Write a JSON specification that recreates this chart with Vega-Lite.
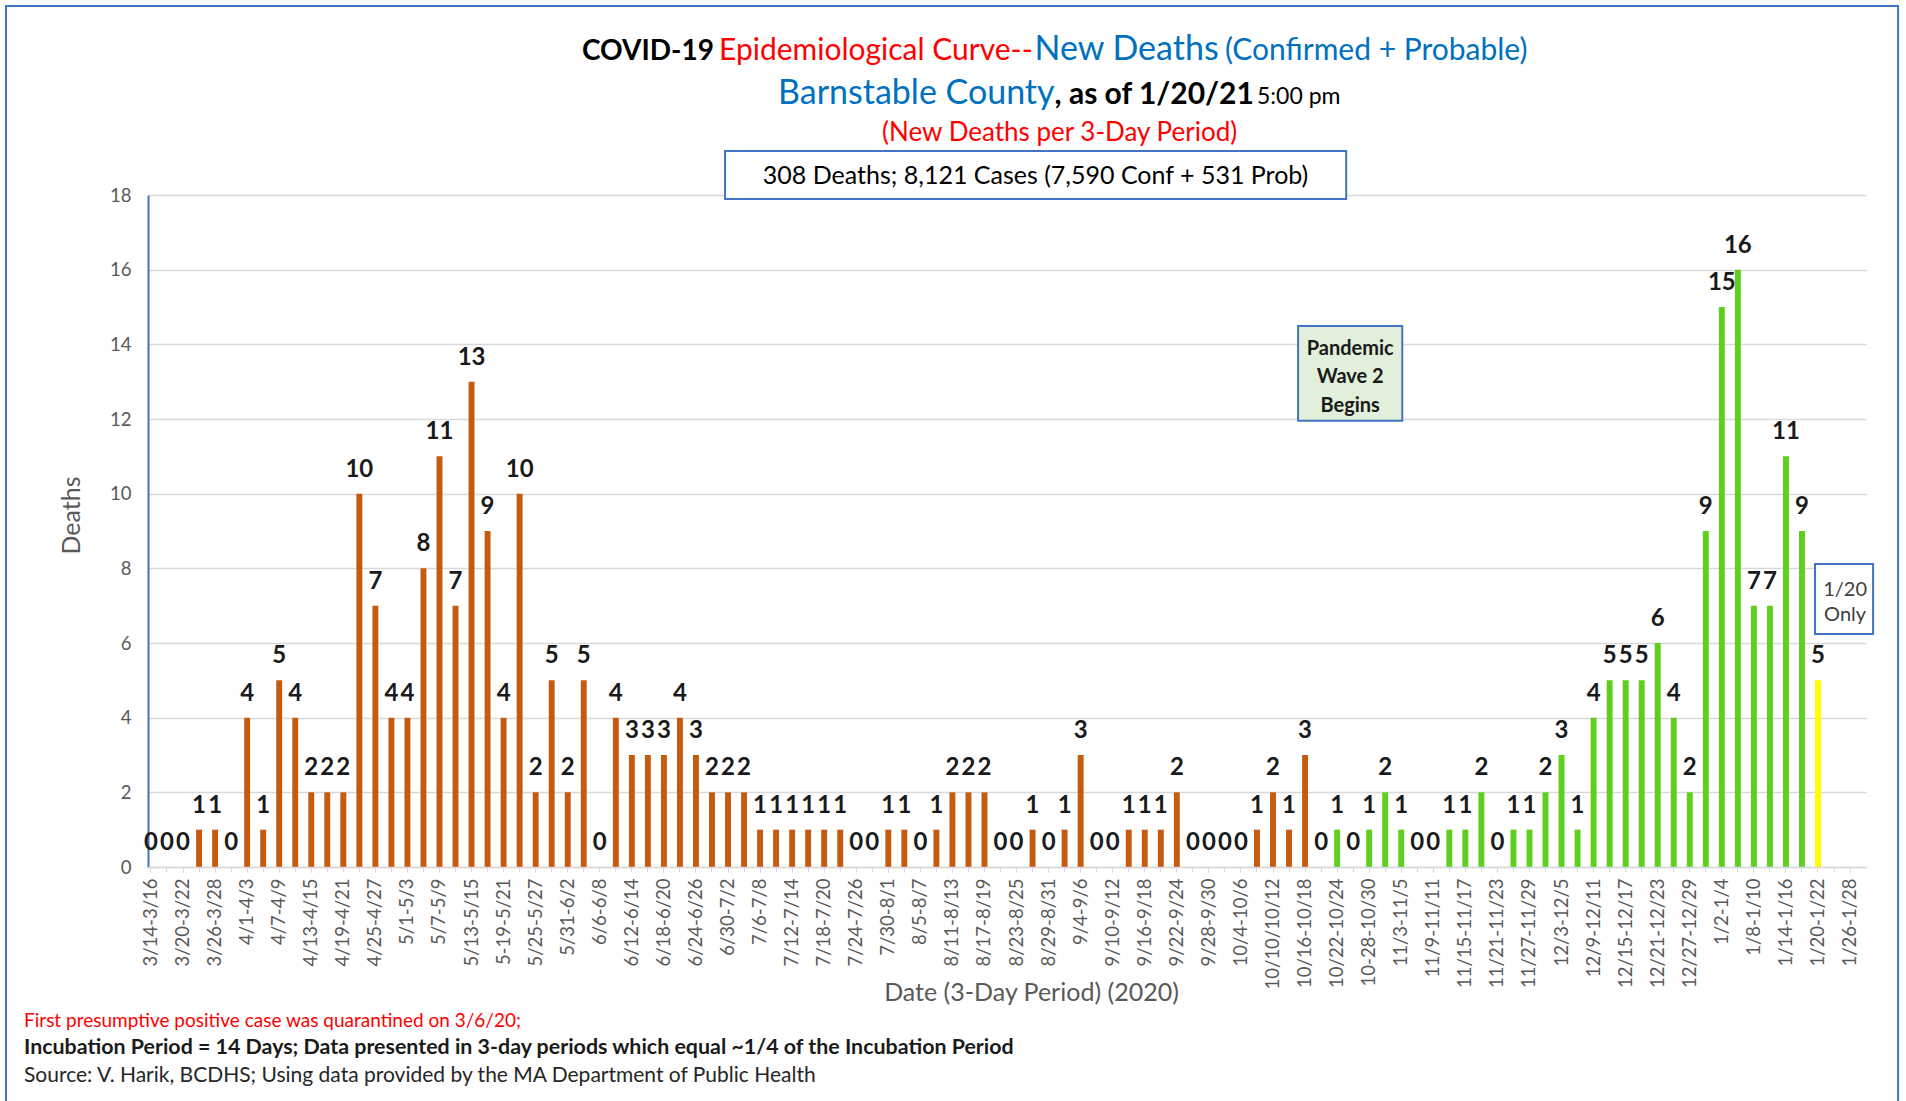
{
  "$schema": "https://vega.github.io/schema/vega-lite/v6.json",
  "width": 1718,
  "height": 672,
  "autosize": {"type": "none"},
  "padding": {"left": 148, "top": 195, "right": 40, "bottom": 234},
  "background": "#ffffff",
  "config": {"view": {"stroke": null}, "font": "Lato"},
  "data": {"values": [
    {"period": "3/14-3/16", "deaths": 0, "wave": "Wave 1"},
    {"period": "3/17-3/19", "deaths": 0, "wave": "Wave 1"},
    {"period": "3/20-3/22", "deaths": 0, "wave": "Wave 1"},
    {"period": "3/23-3/25", "deaths": 1, "wave": "Wave 1"},
    {"period": "3/26-3/28", "deaths": 1, "wave": "Wave 1"},
    {"period": "3/29-3/31", "deaths": 0, "wave": "Wave 1"},
    {"period": "4/1-4/3", "deaths": 4, "wave": "Wave 1"},
    {"period": "4/4-4/6", "deaths": 1, "wave": "Wave 1"},
    {"period": "4/7-4/9", "deaths": 5, "wave": "Wave 1"},
    {"period": "4/10-4/12", "deaths": 4, "wave": "Wave 1"},
    {"period": "4/13-4/15", "deaths": 2, "wave": "Wave 1"},
    {"period": "4/16-4/18", "deaths": 2, "wave": "Wave 1"},
    {"period": "4/19-4/21", "deaths": 2, "wave": "Wave 1"},
    {"period": "4/22-4/24", "deaths": 10, "wave": "Wave 1"},
    {"period": "4/25-4/27", "deaths": 7, "wave": "Wave 1"},
    {"period": "4/28-4/30", "deaths": 4, "wave": "Wave 1"},
    {"period": "5/1-5/3", "deaths": 4, "wave": "Wave 1"},
    {"period": "5/4-5/6", "deaths": 8, "wave": "Wave 1"},
    {"period": "5/7-5/9", "deaths": 11, "wave": "Wave 1"},
    {"period": "5/10-5/12", "deaths": 7, "wave": "Wave 1"},
    {"period": "5/13-5/15", "deaths": 13, "wave": "Wave 1"},
    {"period": "5/16-5/18", "deaths": 9, "wave": "Wave 1"},
    {"period": "5-19-5/21", "deaths": 4, "wave": "Wave 1"},
    {"period": "5/22-5/24", "deaths": 10, "wave": "Wave 1"},
    {"period": "5/25-5/27", "deaths": 2, "wave": "Wave 1"},
    {"period": "5/28-5/30", "deaths": 5, "wave": "Wave 1"},
    {"period": "5/31-6/2", "deaths": 2, "wave": "Wave 1"},
    {"period": "6/3-6/5", "deaths": 5, "wave": "Wave 1"},
    {"period": "6/6-6/8", "deaths": 0, "wave": "Wave 1"},
    {"period": "6/9-6/11", "deaths": 4, "wave": "Wave 1"},
    {"period": "6/12-6/14", "deaths": 3, "wave": "Wave 1"},
    {"period": "6/15-6/17", "deaths": 3, "wave": "Wave 1"},
    {"period": "6/18-6/20", "deaths": 3, "wave": "Wave 1"},
    {"period": "6/21-6/23", "deaths": 4, "wave": "Wave 1"},
    {"period": "6/24-6/26", "deaths": 3, "wave": "Wave 1"},
    {"period": "6/27-6/29", "deaths": 2, "wave": "Wave 1"},
    {"period": "6/30-7/2", "deaths": 2, "wave": "Wave 1"},
    {"period": "7/3-7/5", "deaths": 2, "wave": "Wave 1"},
    {"period": "7/6-7/8", "deaths": 1, "wave": "Wave 1"},
    {"period": "7/9-7/11", "deaths": 1, "wave": "Wave 1"},
    {"period": "7/12-7/14", "deaths": 1, "wave": "Wave 1"},
    {"period": "7/15-7/17", "deaths": 1, "wave": "Wave 1"},
    {"period": "7/18-7/20", "deaths": 1, "wave": "Wave 1"},
    {"period": "7/21-7/23", "deaths": 1, "wave": "Wave 1"},
    {"period": "7/24-7/26", "deaths": 0, "wave": "Wave 1"},
    {"period": "7/27-7/29", "deaths": 0, "wave": "Wave 1"},
    {"period": "7/30-8/1", "deaths": 1, "wave": "Wave 1"},
    {"period": "8/2-8/4", "deaths": 1, "wave": "Wave 1"},
    {"period": "8/5-8/7", "deaths": 0, "wave": "Wave 1"},
    {"period": "8/8-8/10", "deaths": 1, "wave": "Wave 1"},
    {"period": "8/11-8/13", "deaths": 2, "wave": "Wave 1"},
    {"period": "8/14-8/16", "deaths": 2, "wave": "Wave 1"},
    {"period": "8/17-8/19", "deaths": 2, "wave": "Wave 1"},
    {"period": "8/20-8/22", "deaths": 0, "wave": "Wave 1"},
    {"period": "8/23-8/25", "deaths": 0, "wave": "Wave 1"},
    {"period": "8/26-8/28", "deaths": 1, "wave": "Wave 1"},
    {"period": "8/29-8/31", "deaths": 0, "wave": "Wave 1"},
    {"period": "9/1-9/3", "deaths": 1, "wave": "Wave 1"},
    {"period": "9/4-9/6", "deaths": 3, "wave": "Wave 1"},
    {"period": "9/7-9/9", "deaths": 0, "wave": "Wave 1"},
    {"period": "9/10-9/12", "deaths": 0, "wave": "Wave 1"},
    {"period": "9/13-9/15", "deaths": 1, "wave": "Wave 1"},
    {"period": "9/16-9/18", "deaths": 1, "wave": "Wave 1"},
    {"period": "9/19-9/21", "deaths": 1, "wave": "Wave 1"},
    {"period": "9/22-9/24", "deaths": 2, "wave": "Wave 1"},
    {"period": "9/25-9/27", "deaths": 0, "wave": "Wave 1"},
    {"period": "9/28-9/30", "deaths": 0, "wave": "Wave 1"},
    {"period": "10/1-10/3", "deaths": 0, "wave": "Wave 1"},
    {"period": "10/4-10/6", "deaths": 0, "wave": "Wave 1"},
    {"period": "10/7-10/9", "deaths": 1, "wave": "Wave 1"},
    {"period": "10/10/10/12", "deaths": 2, "wave": "Wave 1"},
    {"period": "10/13-10/15", "deaths": 1, "wave": "Wave 1"},
    {"period": "10/16-10/18", "deaths": 3, "wave": "Wave 1"},
    {"period": "10/19-10/21", "deaths": 0, "wave": "Wave 2"},
    {"period": "10/22-10/24", "deaths": 1, "wave": "Wave 2"},
    {"period": "10/25-10/27", "deaths": 0, "wave": "Wave 2"},
    {"period": "10-28-10/30", "deaths": 1, "wave": "Wave 2"},
    {"period": "10/31-11/2", "deaths": 2, "wave": "Wave 2"},
    {"period": "11/3-11/5", "deaths": 1, "wave": "Wave 2"},
    {"period": "11/6-11/8", "deaths": 0, "wave": "Wave 2"},
    {"period": "11/9-11/11", "deaths": 0, "wave": "Wave 2"},
    {"period": "11/12-11/14", "deaths": 1, "wave": "Wave 2"},
    {"period": "11/15-11/17", "deaths": 1, "wave": "Wave 2"},
    {"period": "11/18-11/20", "deaths": 2, "wave": "Wave 2"},
    {"period": "11/21-11/23", "deaths": 0, "wave": "Wave 2"},
    {"period": "11/24-11/26", "deaths": 1, "wave": "Wave 2"},
    {"period": "11/27-11/29", "deaths": 1, "wave": "Wave 2"},
    {"period": "11/30-12/2", "deaths": 2, "wave": "Wave 2"},
    {"period": "12/3-12/5", "deaths": 3, "wave": "Wave 2"},
    {"period": "12/6-12/8", "deaths": 1, "wave": "Wave 2"},
    {"period": "12/9-12/11", "deaths": 4, "wave": "Wave 2"},
    {"period": "12/12-12/14", "deaths": 5, "wave": "Wave 2"},
    {"period": "12/15-12/17", "deaths": 5, "wave": "Wave 2"},
    {"period": "12/18-12/20", "deaths": 5, "wave": "Wave 2"},
    {"period": "12/21-12/23", "deaths": 6, "wave": "Wave 2"},
    {"period": "12/24-12/26", "deaths": 4, "wave": "Wave 2"},
    {"period": "12/27-12/29", "deaths": 2, "wave": "Wave 2"},
    {"period": "12/30-1/1", "deaths": 9, "wave": "Wave 2"},
    {"period": "1/2-1/4", "deaths": 15, "wave": "Wave 2"},
    {"period": "1/5-1/7", "deaths": 16, "wave": "Wave 2"},
    {"period": "1/8-1/10", "deaths": 7, "wave": "Wave 2"},
    {"period": "1/11-1/13", "deaths": 7, "wave": "Wave 2"},
    {"period": "1/14-1/16", "deaths": 11, "wave": "Wave 2"},
    {"period": "1/17-1/19", "deaths": 9, "wave": "Wave 2"},
    {"period": "1/20-1/22", "deaths": 5, "wave": "1/20 only"}
  ]},
  "encoding": {
    "x": {
      "type": "ordinal",
      "scale": {
        "domain": ["3/14-3/16","3/17-3/19","3/20-3/22","3/23-3/25","3/26-3/28","3/29-3/31","4/1-4/3","4/4-4/6","4/7-4/9","4/10-4/12","4/13-4/15","4/16-4/18","4/19-4/21","4/22-4/24","4/25-4/27","4/28-4/30","5/1-5/3","5/4-5/6","5/7-5/9","5/10-5/12","5/13-5/15","5/16-5/18","5-19-5/21","5/22-5/24","5/25-5/27","5/28-5/30","5/31-6/2","6/3-6/5","6/6-6/8","6/9-6/11","6/12-6/14","6/15-6/17","6/18-6/20","6/21-6/23","6/24-6/26","6/27-6/29","6/30-7/2","7/3-7/5","7/6-7/8","7/9-7/11","7/12-7/14","7/15-7/17","7/18-7/20","7/21-7/23","7/24-7/26","7/27-7/29","7/30-8/1","8/2-8/4","8/5-8/7","8/8-8/10","8/11-8/13","8/14-8/16","8/17-8/19","8/20-8/22","8/23-8/25","8/26-8/28","8/29-8/31","9/1-9/3","9/4-9/6","9/7-9/9","9/10-9/12","9/13-9/15","9/16-9/18","9/19-9/21","9/22-9/24","9/25-9/27","9/28-9/30","10/1-10/3","10/4-10/6","10/7-10/9","10/10/10/12","10/13-10/15","10/16-10/18","10/19-10/21","10/22-10/24","10/25-10/27","10-28-10/30","10/31-11/2","11/3-11/5","11/6-11/8","11/9-11/11","11/12-11/14","11/15-11/17","11/18-11/20","11/21-11/23","11/24-11/26","11/27-11/29","11/30-12/2","12/3-12/5","12/6-12/8","12/9-12/11","12/12-12/14","12/15-12/17","12/18-12/20","12/21-12/23","12/24-12/26","12/27-12/29","12/30-1/1","1/2-1/4","1/5-1/7","1/8-1/10","1/11-1/13","1/14-1/16","1/17-1/19","1/20-1/22","1/23-1/25","1/26-1/28"],
        "paddingInner": 0.63, "paddingOuter": 0.405, "align": 0, "round": false
      },
      "axis": {
        "title": "Date (3-Day Period) (2020)",
        "labelAngle": -90,
        "labelExpr": "indexof(domain('x'), datum.value) % 2 === 0 ? datum.label : ''",
        "labelOverlap": false, "labelBound": false,
        "labelFont": "Lato", "labelFontSize": 18.5, "labelColor": "#595959", "labelPadding": 6,
        "ticks": true, "tickColor": "#D9D9D9", "tickSize": 5,
        "domainColor": "#D9D9D9", "domainWidth": 1.5, "grid": false,
        "titleFont": "Lato", "titleFontSize": 25, "titleFontWeight": "normal", "titleColor": "#595959",
        "titleX": 883, "titleY": 125, "titleBaseline": "middle", "titleAlign": "center"
      }
    },
    "y": {
      "type": "quantitative",
      "scale": {"domain": [0, 18], "nice": false},
      "axis": {
        "title": "Deaths", "values": [0, 2, 4, 6, 8, 10, 12, 14, 16, 18],
        "grid": true, "gridColor": "#D9D9D9", "gridWidth": 1.5,
        "domain": true, "domainColor": "#4472C4", "domainWidth": 2,
        "ticks": false, "labelPadding": 17,
        "labelFont": "Lato", "labelFontSize": 18.5, "labelColor": "#595959",
        "titleFont": "Lato", "titleFontSize": 25, "titleFontWeight": "normal", "titleColor": "#595959",
        "titleX": -77, "titleY": 320, "titleAlign": "center", "titleBaseline": "middle", "titleAngle": 270
      }
    }
  },
  "layer": [
    {
      "data": {"values": [{}]},
      "mark": {"type": "rect", "filled": false, "stroke": "#4472C4", "strokeWidth": 2, "xOffset": -142, "x2Offset": 51},
      "encoding": {
        "x": {"datum": "3/14-3/16", "bandPosition": 0},
        "x2": {"datum": "1/26-1/28", "bandPosition": 0},
        "y": {"datum": 23.06},
        "y2": {"datum": -6.51}
      }
    },
    {
      "mark": {"type": "bar"},
      "encoding": {
        "x": {"field": "period"},
        "y": {"field": "deaths"},
        "color": {
          "field": "wave", "type": "nominal",
          "scale": {"domain": ["Wave 1", "Wave 2", "1/20 only"], "range": ["#C55A11", "#5FCF1F", "#FFFF00"]},
          "legend": null
        }
      }
    },
    {
      "mark": {"type": "text", "baseline": "alphabetic", "dy": -17, "font": "Lato", "fontSize": 24, "fontWeight": "bold", "color": "#1a1a1a"},
      "encoding": {
        "x": {"field": "period"},
        "y": {"field": "deaths"},
        "text": {"field": "deaths", "type": "quantitative"}
      }
    },
    {
      "data": {"values": [{}]},
      "mark": {"type": "rect", "fill": "#ffffff", "stroke": "#4472C4", "strokeWidth": 2, "x2Offset": -4},
      "encoding": {
        "x": {"datum": "6/30-7/2", "bandPosition": 0},
        "x2": {"datum": "10/25-10/27", "bandPosition": 0},
        "y": {"datum": 19.18},
        "y2": {"datum": 17.89}
      }
    },
    {
      "data": {"values": [{}]},
      "mark": {"type": "text", "text": "308 Deaths; 8,121 Cases (7,590 Conf + 531 Prob)", "align": "center", "baseline": "middle", "dx": 3, "font": "Lato", "fontSize": 25, "color": "#000000"},
      "encoding": {
        "x": {"datum": "8/26-8/28", "bandPosition": 0.5},
        "y": {"datum": 18.5}
      }
    },
    {
      "data": {"values": [{}]},
      "mark": {"type": "text", "text": "COVID-19", "align": "right", "baseline": "alphabetic", "dx": 2, "font": "Lato", "fontSize": 28, "fontWeight": "bold", "color": "#000000"},
      "encoding": {
        "x": {"datum": "6/27-6/29", "bandPosition": 0.5},
        "y": {"datum": 21.61}
      }
    },
    {
      "data": {"values": [{}]},
      "mark": {"type": "text", "text": "Epidemiological Curve--", "align": "left", "baseline": "alphabetic", "dx": 7, "font": "Lato", "fontSize": 30, "color": "#FF0000"},
      "encoding": {
        "x": {"datum": "6/27-6/29", "bandPosition": 0.5},
        "y": {"datum": 21.61}
      }
    },
    {
      "data": {"values": [{}]},
      "mark": {"type": "text", "text": "New Deaths", "align": "left", "baseline": "alphabetic", "dx": 2, "font": "Lato", "fontSize": 34, "color": "#0070C0"},
      "encoding": {
        "x": {"datum": "8/26-8/28", "bandPosition": 0.5},
        "y": {"datum": 21.61}
      }
    },
    {
      "data": {"values": [{}]},
      "mark": {"type": "text", "text": "(Confirmed + Probable)", "align": "left", "baseline": "alphabetic", "font": "Lato", "fontSize": 30, "color": "#0070C0"},
      "encoding": {
        "x": {"datum": "10/1-10/3", "bandPosition": 0.5},
        "y": {"datum": 21.61}
      }
    },
    {
      "data": {"values": [{}]},
      "mark": {"type": "text", "text": "Barnstable County", "align": "right", "baseline": "alphabetic", "dx": 6, "font": "Lato", "fontSize": 34, "color": "#0070C0"},
      "encoding": {
        "x": {"datum": "8/29-8/31", "bandPosition": 0.5},
        "y": {"datum": 20.43}
      }
    },
    {
      "data": {"values": [{}]},
      "mark": {"type": "text", "text": ", as of 1/20/21", "align": "left", "baseline": "alphabetic", "dx": 6, "font": "Lato", "fontSize": 30, "fontWeight": "bold", "color": "#000000"},
      "encoding": {
        "x": {"datum": "8/29-8/31", "bandPosition": 0.5},
        "y": {"datum": 20.43}
      }
    },
    {
      "data": {"values": [{}]},
      "mark": {"type": "text", "text": "5:00 pm", "align": "left", "baseline": "alphabetic", "font": "Lato", "fontSize": 23, "color": "#000000"},
      "encoding": {
        "x": {"datum": "10/7-10/9", "bandPosition": 0.5},
        "y": {"datum": 20.43}
      }
    },
    {
      "data": {"values": [{}]},
      "mark": {"type": "text", "text": "(New Deaths per 3-Day Period)", "align": "center", "baseline": "alphabetic", "dx": -5, "font": "Lato", "fontSize": 26, "color": "#FF0000"},
      "encoding": {
        "x": {"datum": "9/1-9/3", "bandPosition": 0.5},
        "y": {"datum": 19.45}
      }
    },
    {
      "data": {"values": [{}]},
      "mark": {"type": "rect", "fill": "#E2EFDA", "stroke": "#4472C4", "strokeWidth": 2, "xOffset": -4, "x2Offset": 4},
      "encoding": {
        "x": {"datum": "10/16-10/18", "bandPosition": 0},
        "x2": {"datum": "11/3-11/5", "bandPosition": 0},
        "y": {"datum": 14.49},
        "y2": {"datum": 11.95}
      }
    },
    {
      "data": {"values": [{}]},
      "mark": {"type": "text", "text": "Pandemic", "align": "center", "baseline": "middle", "font": "Lato", "fontSize": 20, "fontWeight": "bold", "color": "#1a1a1a"},
      "encoding": {
        "x": {"datum": "10/25-10/27", "bandPosition": 0},
        "y": {"datum": 13.875}
      }
    },
    {
      "data": {"values": [{}]},
      "mark": {"type": "text", "text": "Wave 2", "align": "center", "baseline": "middle", "font": "Lato", "fontSize": 20, "fontWeight": "bold", "color": "#1a1a1a"},
      "encoding": {
        "x": {"datum": "10/25-10/27", "bandPosition": 0},
        "y": {"datum": 13.125}
      }
    },
    {
      "data": {"values": [{}]},
      "mark": {"type": "text", "text": "Begins", "align": "center", "baseline": "middle", "font": "Lato", "fontSize": 20, "fontWeight": "bold", "color": "#1a1a1a"},
      "encoding": {
        "x": {"datum": "10/25-10/27", "bandPosition": 0},
        "y": {"datum": 12.35}
      }
    },
    {
      "data": {"values": [{}]},
      "mark": {"type": "rect", "fill": "#ffffff", "stroke": "#4472C4", "strokeWidth": 2, "x2Offset": 26},
      "encoding": {
        "x": {"datum": "1/20-1/22", "bandPosition": 0},
        "x2": {"datum": "1/26-1/28", "bandPosition": 0},
        "y": {"datum": 8.116},
        "y2": {"datum": 6.241}
      }
    },
    {
      "data": {"values": [{}]},
      "mark": {"type": "text", "text": "1/20", "align": "center", "baseline": "middle", "dx": -2, "font": "Lato", "fontSize": 20, "color": "#404040"},
      "encoding": {
        "x": {"datum": "1/26-1/28", "bandPosition": 0},
        "y": {"datum": 7.42}
      }
    },
    {
      "data": {"values": [{}]},
      "mark": {"type": "text", "text": "Only", "align": "center", "baseline": "middle", "dx": -2, "font": "Lato", "fontSize": 20, "color": "#404040"},
      "encoding": {
        "x": {"datum": "1/26-1/28", "bandPosition": 0},
        "y": {"datum": 6.75}
      }
    },
    {
      "data": {"values": [{}]},
      "mark": {"type": "text", "text": "First presumptive positive case was quarantined on 3/6/20;", "align": "left", "baseline": "middle", "dx": -124, "font": "Lato", "fontSize": 19, "color": "#FF0000"},
      "encoding": {
        "x": {"datum": "3/14-3/16", "bandPosition": 0},
        "y": {"datum": -4.125}
      }
    },
    {
      "data": {"values": [{}]},
      "mark": {"type": "text", "text": "Incubation Period = 14 Days; Data presented in 3-day periods which equal ~1/4 of the Incubation Period", "align": "left", "baseline": "middle", "dx": -124, "font": "Lato", "fontSize": 21.4, "fontWeight": "bold", "color": "#1a1a1a"},
      "encoding": {
        "x": {"datum": "3/14-3/16", "bandPosition": 0},
        "y": {"datum": -4.848}
      }
    },
    {
      "data": {"values": [{}]},
      "mark": {"type": "text", "text": "Source: V. Harik, BCDHS; Using data provided by the MA Department of Public Health", "align": "left", "baseline": "middle", "dx": -124, "font": "Lato", "fontSize": 21, "color": "#262626"},
      "encoding": {
        "x": {"datum": "3/14-3/16", "bandPosition": 0},
        "y": {"datum": -5.598}
      }
    }
  ]
}
